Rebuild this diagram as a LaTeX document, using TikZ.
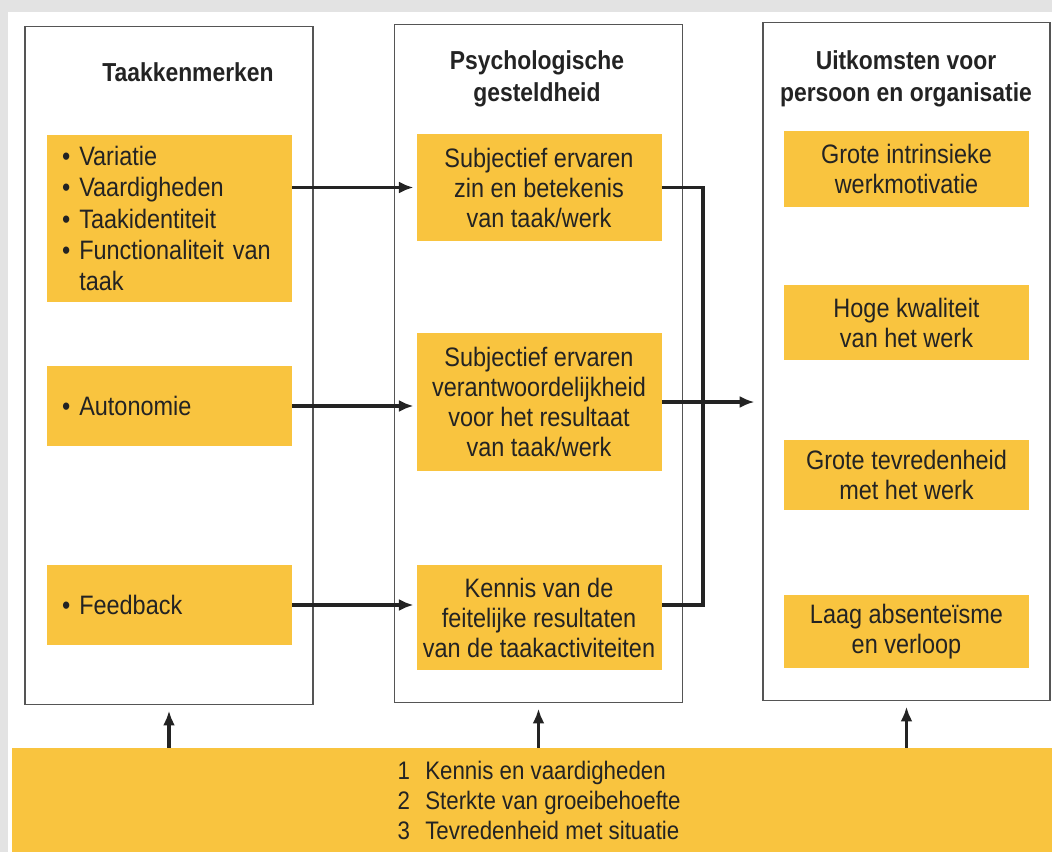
\documentclass[tikz,border=0pt]{standalone}
\usepackage{fontspec}
\setmainfont{Liberation Sans}[FakeStretch=0.88]
\usepackage{xcolor}
\usetikzlibrary{arrows.meta,positioning}
\definecolor{geel}{RGB}{249,196,63}
\definecolor{rand}{RGB}{85,85,85}
\definecolor{inkt}{RGB}{35,35,35}

\begin{document}
\begin{tikzpicture}[
  x=0.75pt, y=-0.75pt,
  kolom/.style={draw=rand, line width=0.9pt, minimum width=216pt, minimum height=509pt},
  kop/.style={font=\fontsize{19.5}{24.5}\selectfont\bfseries, align=center, text=inkt},
  blok/.style={fill=geel, inner sep=0pt, minimum width=183.75pt, align=center, text=inkt, font=\fontsize{20}{22.5}\selectfont},
  lijst/.style={blok, text width=161pt, align=left, font=\fontsize{20}{23.5}\selectfont},
  arr/.style={-{Latex[length=11pt,width=9pt]}, line width=2.5pt, draw=inkt}
]
  \useasboundingbox (0,0) rectangle (1052,852);
  \fill[gray!22] (0,0) rectangle (1052,852);
  \fill[white] (8,12) rectangle (1052,852);

  % kolommen
  \node[kolom] (kolL) at (169,365.5) {};
  \node[kolom] (kolM) at (538.5,363.5) {};
  \node[kolom, minimum width=215.25pt] (kolR) at (906.5,361.5) {};

  \node[kop] (kopL) at (188,72) {Taakkenmerken};
  \node[kop] (kopM) at (537,79) {Psychologische\\gesteldheid};
  \node[kop] (kopR) at (906,79) {Uitkomsten voor\\persoon en organisatie};

  % taakkenmerken
  \node[lijst, minimum height=125pt] (taak) at (169.5,218.5) {\textbullet\,\,Variatie\\\textbullet\,\,Vaardigheden\\\textbullet\,\,Taakidentiteit\\\textbullet\,\,Functionaliteit van\\\hphantom{\textbullet\,\,}taak};
  \node[lijst, minimum height=60pt] (auto) at (169.5,406) {\textbullet\,\,Autonomie};
  \node[lijst, minimum height=60pt] (feed) at (169.5,605) {\textbullet\,\,Feedback};

  % psychologische gesteldheid
  \node[blok, minimum height=80pt] (zin) at (539,187.5) {Subjectief ervaren\\zin en betekenis\\van taak/werk};
  \node[blok, minimum height=103.5pt] (verantw) at (539,402) {Subjectief ervaren\\verantwoordelijkheid\\voor het resultaat\\van taak/werk};
  \node[blok, minimum height=78.75pt] (kennis) at (539,617.5) {Kennis van de\\feitelijke resultaten\\van de taakactiviteiten};

  % uitkomsten
  \node[blok, minimum height=57pt] (motiv) at (906.5,169) {Grote intrinsieke\\werkmotivatie};
  \node[blok, minimum height=56.25pt] (kwal) at (906.5,322.5) {Hoge kwaliteit\\van het werk};
  \node[blok, minimum height=52.5pt] (tevr) at (906.5,475) {Grote tevredenheid\\met het werk};
  \node[blok, minimum height=54.75pt] (absent) at (906.5,631.5) {Laag absenteïsme\\en verloop};

  % moderatoren
  \node[fill=geel, inner sep=0pt, minimum width=780pt, minimum height=78pt] (balk) at (532,800) {};
  \node[anchor=west, align=left, text=inkt, font=\fontsize{19}{22.5}\selectfont] (factoren) at (393,800) {1\hspace{0.6em}Kennis en vaardigheden\\2\hspace{0.6em}Sterkte van groeibehoefte\\3\hspace{0.6em}Tevredenheid met situatie};

  \draw[arr, shorten >=2pt] (taak.east |- zin.west) -- (zin.west);
  \draw[arr, shorten >=2pt] (auto.east) -- (auto.east -| verantw.west);
  \draw[arr, shorten >=2pt] (feed.east) -- (feed.east -| kennis.west);

  \coordinate (knik) at (703,402);
  \draw[line width=2.5pt, draw=inkt] (zin.east) -| (knik) |- (kennis.east |- feed.east);
  \draw[arr, shorten >=6pt] (verantw.east) -- (verantw.east -| kolR.west);

  \draw[arr, shorten >=4pt] (balk.north -| kolL) -- (kolL.south);
  \draw[arr, shorten >=4pt] (balk.north -| kolM) -- (kolM.south);
  \draw[arr, shorten >=4pt] (balk.north -| kolR) -- (kolR.south);
\end{tikzpicture}
\end{document}
